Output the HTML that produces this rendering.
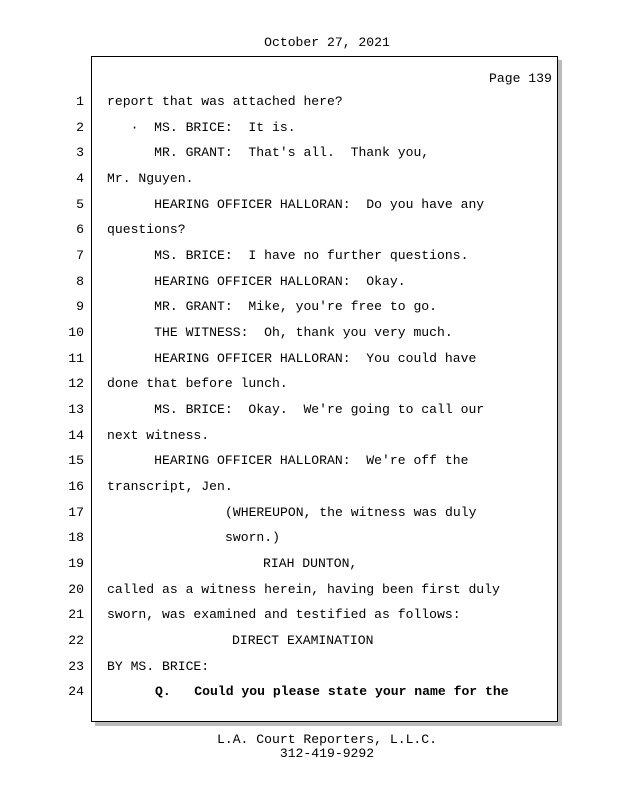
<!DOCTYPE html>
<html><head><meta charset="utf-8"><style>
body{margin:0;width:618px;height:800px;background:#fff;position:relative;font-family:"Liberation Mono",monospace;font-size:13.1px;color:#000;overflow:hidden}
.t{position:absolute;white-space:pre;line-height:16px}
.n{position:absolute;width:30px;text-align:right;left:54px;line-height:16px}
#box{position:absolute;left:91px;top:56px;width:465px;height:664px;border:1.5px solid #000;box-shadow:4px 4px 0 #bbb}
</style></head><body>
<div class="t" style="left:18px;width:618px;text-align:center;top:35px">October 27, 2021</div>
<div id="box"></div>
<div class="t" style="left:489px;top:71px">Page 139</div>
<div class="n" style="top:94px">1</div><div class="t" style="left:107px;top:94px">report that was attached here?</div>
<div class="n" style="top:120px">2</div><div class="t" style="left:107px;top:120px">   ·  MS. BRICE:  It is.</div>
<div class="n" style="top:145px">3</div><div class="t" style="left:107px;top:145px">      MR. GRANT:  That's all.  Thank you,</div>
<div class="n" style="top:171px">4</div><div class="t" style="left:107px;top:171px">Mr. Nguyen.</div>
<div class="n" style="top:197px">5</div><div class="t" style="left:107px;top:197px">      HEARING OFFICER HALLORAN:  Do you have any</div>
<div class="n" style="top:222px">6</div><div class="t" style="left:107px;top:222px">questions?</div>
<div class="n" style="top:248px">7</div><div class="t" style="left:107px;top:248px">      MS. BRICE:  I have no further questions.</div>
<div class="n" style="top:274px">8</div><div class="t" style="left:107px;top:274px">      HEARING OFFICER HALLORAN:  Okay.</div>
<div class="n" style="top:299px">9</div><div class="t" style="left:107px;top:299px">      MR. GRANT:  Mike, you're free to go.</div>
<div class="n" style="top:325px">10</div><div class="t" style="left:107px;top:325px">      THE WITNESS:  Oh, thank you very much.</div>
<div class="n" style="top:351px">11</div><div class="t" style="left:107px;top:351px">      HEARING OFFICER HALLORAN:  You could have</div>
<div class="n" style="top:376px">12</div><div class="t" style="left:107px;top:376px">done that before lunch.</div>
<div class="n" style="top:402px">13</div><div class="t" style="left:107px;top:402px">      MS. BRICE:  Okay.  We're going to call our</div>
<div class="n" style="top:428px">14</div><div class="t" style="left:107px;top:428px">next witness.</div>
<div class="n" style="top:453px">15</div><div class="t" style="left:107px;top:453px">      HEARING OFFICER HALLORAN:  We're off the</div>
<div class="n" style="top:479px">16</div><div class="t" style="left:107px;top:479px">transcript, Jen.</div>
<div class="n" style="top:505px">17</div><div class="t" style="left:225px;top:505px">(WHEREUPON, the witness was duly</div>
<div class="n" style="top:530px">18</div><div class="t" style="left:225px;top:530px">sworn.)</div>
<div class="n" style="top:556px">19</div><div class="t" style="left:263px;top:556px">RIAH DUNTON,</div>
<div class="n" style="top:582px">20</div><div class="t" style="left:107px;top:582px">called as a witness herein, having been first duly</div>
<div class="n" style="top:607px">21</div><div class="t" style="left:107px;top:607px">sworn, was examined and testified as follows:</div>
<div class="n" style="top:633px">22</div><div class="t" style="left:232px;top:633px">DIRECT EXAMINATION</div>
<div class="n" style="top:659px">23</div><div class="t" style="left:107px;top:659px">BY MS. BRICE:</div>
<div class="n" style="top:684px">24</div><div class="t" style="left:155px;top:684px;font-weight:bold">Q.   Could you please state your name for the</div>
<div class="t" style="left:18px;width:618px;text-align:center;top:733px;line-height:14px">L.A. Court Reporters, L.L.C.<br>312-419-9292</div>
</body></html>
